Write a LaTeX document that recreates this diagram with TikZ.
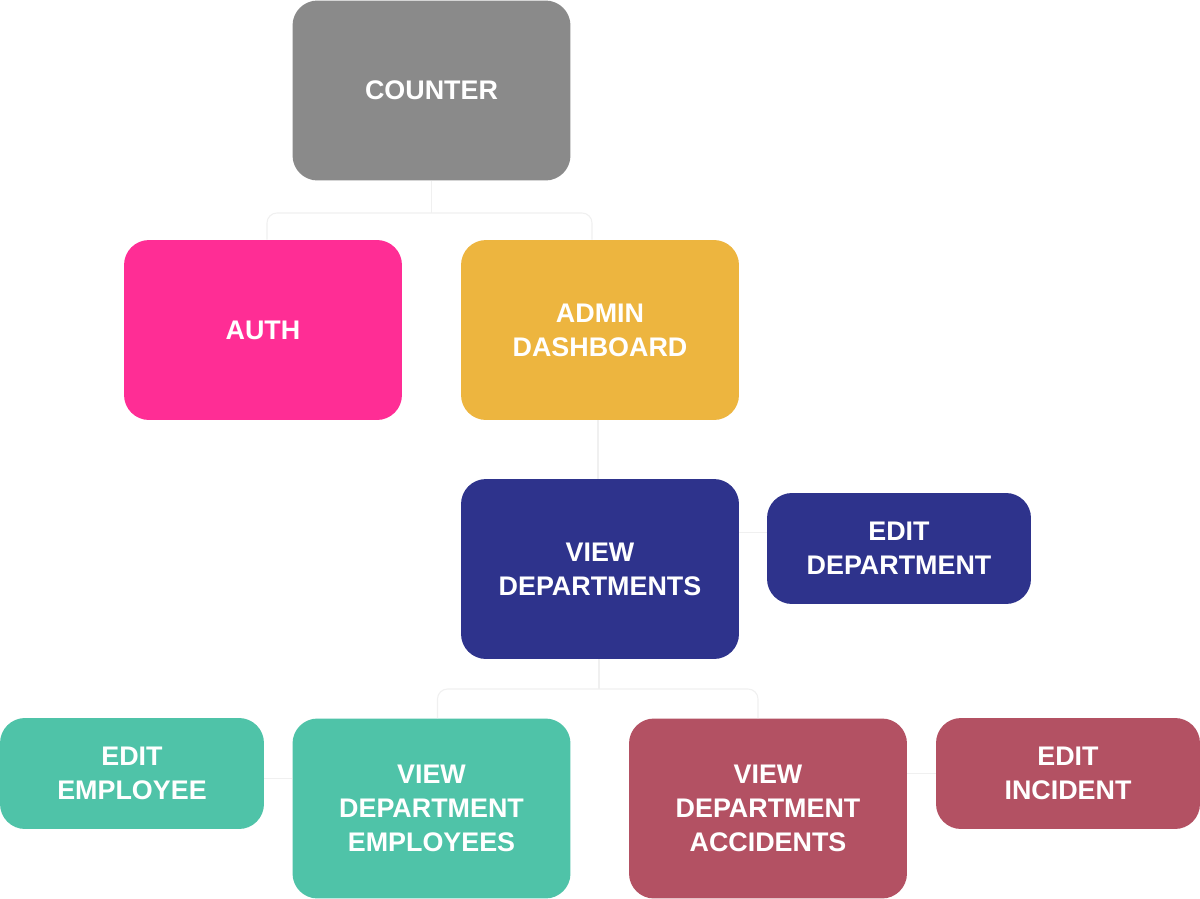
\documentclass[tikz,border=0pt]{standalone}
\usepackage{fontspec}
\setmainfont{Liberation Sans}
\definecolor{cgray}{HTML}{8A8A8A}
\definecolor{cpink}{HTML}{FF2D95}
\definecolor{cyellow}{HTML}{EDB53F}
\definecolor{cnavy}{HTML}{2E338C}
\definecolor{cteal}{HTML}{4FC3A8}
\definecolor{cred}{HTML}{B35163}
\definecolor{cline}{HTML}{F0F0F0}
\begin{document}
\begin{tikzpicture}[x=0.02cm,y=-0.02cm,
  box/.style={rounded corners=0.5cm, inner sep=0pt, align=center, text=white,
    font=\fontsize{15.3}{19.3}\selectfont\bfseries},
  big/.style={box, minimum width=5.56cm, minimum height=3.6cm},
  small/.style={box, minimum width=5.28cm, minimum height=2.22cm},
  conn/.style={draw=cline, line width=0.6pt, rounded corners=0.2cm}]
\fill[white] (0,0) rectangle (1200,899);
\useasboundingbox (0,0) rectangle (1200,899);
\node[big, fill=cgray] (counter) at (431.5,90.5) {COUNTER};
\node[big, fill=cpink] (auth) at (263,330) {AUTH};
\node[big, fill=cyellow] (admin) at (600,330) {ADMIN\\DASHBOARD};
\node[big, fill=cnavy] (viewdep) at (600,569) {VIEW\\DEPARTMENTS};
\node[small, fill=cnavy] (editdep) at (899,548.5) {EDIT\\DEPARTMENT};
\node[small, fill=cteal] (editemp) at (132,773.5) {EDIT\\EMPLOYEE};
\node[big, fill=cteal] (vde) at (431.5,808.5) {VIEW\\DEPARTMENT\\EMPLOYEES};
\node[big, fill=cred] (vda) at (768,808.5) {VIEW\\DEPARTMENT\\ACCIDENTS};
\node[small, fill=cred] (editinc) at (1068,773.5) {EDIT\\INCIDENT};
\coordinate (j1) at (431.5,213);
\coordinate (j2) at (599,689);
\draw[conn] (counter.south) -- (j1);
\draw[conn] ([xshift=4*0.02cm]auth.north) |- (j1) -| ([xshift=-8*0.02cm]admin.north);
\draw[conn] ([xshift=-2*0.02cm]admin.south) -- ([xshift=-2*0.02cm]viewdep.north);
\draw[conn] ([xshift=-1*0.02cm]viewdep.south) -- (j2);
\draw[conn] ([xshift=6*0.02cm]vde.north) |- (j2) -| ([xshift=-10*0.02cm]vda.north);
\draw[conn] (viewdep.east |- editdep.west) ++(0,-16) -- ++(28,0);
\draw[conn] (editemp.east) ++(0,5) -- ++(28,0);
\draw[conn] (vda.east |- editinc.west) -- (editinc.west);
\end{tikzpicture}
\end{document}
